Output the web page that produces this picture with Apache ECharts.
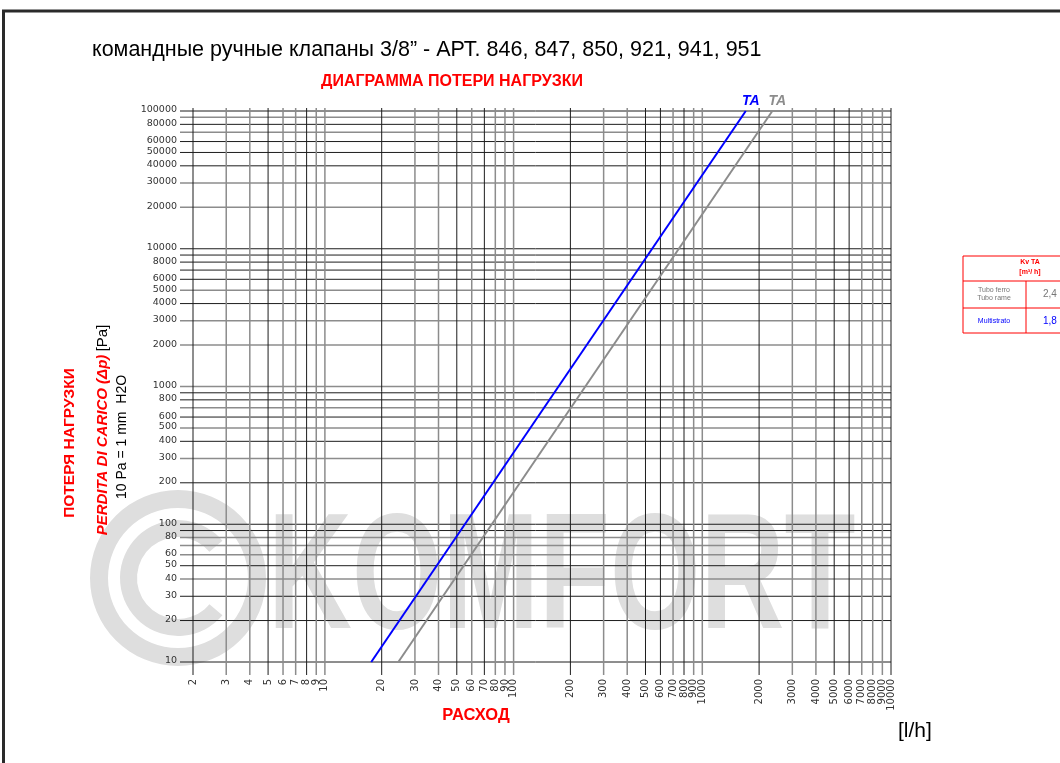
<!DOCTYPE html>
<html><head><meta charset="utf-8">
<script src="https://cdn.jsdelivr.net/npm/echarts@6/dist/echarts.min.js"></script>
<style>html,body{margin:0;padding:0;background:#fff}#c{width:1060px;height:763px}</style>
</head><body><div id="c"></div>
<script>
// ---- data ----
const xTicks = [2,3,4,5,6,7,8,9,10,20,30,40,50,60,70,80,90,100,200,300,400,500,600,700,800,900,1000,2000,3000,4000,5000,6000,7000,8000,9000,10000];
const yTicks = [10,20,30,40,50,60,70,80,90,100,200,300,400,500,600,700,800,900,1000,2000,3000,4000,5000,6000,7000,8000,9000,10000,20000,30000,40000,50000,60000,70000,80000,90000,100000];
const yLabelValues = [10,20,30,40,50,60,80,100,200,300,400,500,600,800,1000,2000,3000,4000,5000,6000,8000,10000,20000,30000,40000,50000,60000,80000,100000];
const blueLine = [[17.6,10],[1700,100000]];   // Multistrato
const grayLine = [[24.5,10],[2350,100000]];   // Tubo ferro / rame
const curveNames = ['TA','TA'];
const kvHeader = ['Kv TA','[m³/ h]'];
const kvRows = [['Tubo ferro\nTubo rame','2,4'],['Multistrato','1,8']];

// ---- styles ----
const xDark = new Set([2,5,8,20,50,70,200,500,600,800,2000,5000,6000,10000]);
const yDark = new Set([10,20,30,50,90,100,200,400,600,800,900,4000,6000,7000,8000,9000,10000,40000,50000,60000,80000,100000]);
const DARK = '#1c1c1c', LIGHT = '#8c8c8c';
const RED = '#ff0000';
const WM = '#dedede';

const chart = echarts.init(document.getElementById('c'));

function vLine(params, api){
  const v = api.value(0);
  const a = api.coord([v, 10]), b = api.coord([v, 100000]);
  const d = xDark.has(v);
  return {type:'line', shape:{x1:a[0], y1:a[1]+13, x2:b[0], y2:b[1]-3},
    style:{stroke: d?DARK:LIGHT, lineWidth: d?1:1.5}};
}
function hLine(params, api){
  const v = api.value(1);
  const a = api.coord([2, v]), b = api.coord([10000, v]);
  const d = yDark.has(v);
  return {type:'line', shape:{x1:a[0]-13, y1:a[1], x2:b[0], y2:b[1]},
    style:{stroke: d?DARK:LIGHT, lineWidth: d?1:1.5}};
}
function xLab(params, api){
  const v = api.value(0);
  const a = api.coord([v, 10]);
  return {type:'text', x:a[0], y:a[1]+17, rotation:Math.PI/2,
    style:{text:String(v), align:'right', verticalAlign:'middle', fill:'#333', font:'10px "DejaVu Sans"'}};
}
function yLab(params, api){
  const v = api.value(1);
  const a = api.coord([2, v]);
  return {type:'text', x:a[0]-16, y:a[1]-1,
    style:{text:String(v), align:'right', verticalAlign:'middle', fill:'#333', font:'9.5px "DejaVu Sans"'}};
}
function taLab(params, api){
  const a = api.coord([api.value(0), api.value(1)]);
  const col = params.dataIndex === 0 ? '#0000ff' : '#8c8c8c';
  return {type:'text', x:a[0]+5, y:a[1]-3,
    style:{text:curveNames[params.dataIndex], align:'center', verticalAlign:'bottom', fill:col, font:'italic bold 14px "Liberation Sans"'}};
}

const tableEls = [];
const tx = 963, tc = 1026, tr = 1100;
const ty = [256, 281, 308, 333];
tableEls.push({type:'rect', shape:{x:tx, y:ty[0], width:tr-tx, height:ty[3]-ty[0]}, style:{fill:'#fff', stroke:RED, lineWidth:1}});
tableEls.push({type:'line', shape:{x1:tx, y1:ty[1], x2:tr, y2:ty[1]}, style:{stroke:RED, lineWidth:1}});
tableEls.push({type:'line', shape:{x1:tx, y1:ty[2], x2:tr, y2:ty[2]}, style:{stroke:RED, lineWidth:1}});
tableEls.push({type:'line', shape:{x1:tc, y1:ty[1], x2:tc, y2:ty[3]}, style:{stroke:RED, lineWidth:1}});
tableEls.push({type:'text', x:1030, y:262, style:{text:kvHeader[0], align:'center', verticalAlign:'middle', fill:RED, font:'bold 7px "Liberation Sans"'}});
tableEls.push({type:'text', x:1030, y:272, style:{text:kvHeader[1], align:'center', verticalAlign:'middle', fill:RED, font:'bold 7px "Liberation Sans"'}});
tableEls.push({type:'text', x:994, y:294.5, style:{text:kvRows[0][0], align:'center', verticalAlign:'middle', fill:'#777', font:'7px "Liberation Sans"', lineHeight:8}});
tableEls.push({type:'text', x:1043, y:294.5, style:{text:kvRows[0][1], align:'left', verticalAlign:'middle', fill:'#777', font:'10px "Liberation Sans"'}});
tableEls.push({type:'text', x:994, y:321, style:{text:kvRows[1][0], align:'center', verticalAlign:'middle', fill:'#0000ff', font:'7px "Liberation Sans"'}});
tableEls.push({type:'text', x:1043, y:321, style:{text:kvRows[1][1], align:'left', verticalAlign:'middle', fill:'#0000ff', font:'10px "Liberation Sans"'}});

const option = {
  animation:false,
  grid:{left:193, top:111, width:698, height:551, containLabel:false},
  xAxis:{type:'log', logBase:10, min:2, max:10000, show:false},
  yAxis:{type:'log', logBase:10, min:10, max:100000, show:false},
  graphic:[
    // watermark
    {type:'ring', z:-10, shape:{cx:178, cy:578, r:88, r0:70}, style:{fill:WM}},
    {type:'sector', z:-10, shape:{cx:178, cy:578, r:58, r0:41, startAngle:40*Math.PI/180, endAngle:320*Math.PI/180, clockwise:true}, style:{fill:WM}},
    {type:'text', z:-10, x:268, y:582, scaleX:0.7, style:{text:'KOMFORT', fill:WM, font:'bold 166px "Liberation Sans"', align:'left', verticalAlign:'middle'}},
    // frame
    {type:'rect', shape:{x:3.5, y:11, width:1100, height:800}, style:{fill:null, stroke:'#2a2a2a', lineWidth:3}},
    // titles
    {type:'text', x:92, y:50, scaleX:1, style:{text:'командные ручные клапаны 3/8” - АРТ. 846, 847, 850, 921, 941, 951', fill:'#000', font:'21.5px "Liberation Sans"', verticalAlign:'middle'}},
    {type:'text', x:452, y:82, style:{text:'ДИАГРАММА ПОТЕРИ НАГРУЗКИ', fill:RED, font:'bold 16px "Liberation Sans"', align:'center', verticalAlign:'middle'}},
    {type:'text', x:70, y:443, rotation:Math.PI/2, style:{text:'ПОТЕРЯ НАГРУЗКИ', fill:RED, font:'bold 15.5px "Liberation Sans"', align:'center', verticalAlign:'middle'}},
    {type:'text', x:103, y:430, rotation:Math.PI/2, style:{text:'{a|PERDITA DI CARICO (Δp)} {b|[Pa]}', align:'center', verticalAlign:'middle',
      rich:{a:{fill:RED, fontWeight:'bold', fontStyle:'italic', fontSize:15, fontFamily:'Liberation Sans'}, b:{fill:'#000', fontSize:15, fontFamily:'Liberation Sans'}}}},
    {type:'text', x:122, y:437, rotation:Math.PI/2, style:{text:'10 Pa = 1 mm  H2O', fill:'#000', font:'14px "Liberation Sans"', align:'center', verticalAlign:'middle'}},
    {type:'text', x:476, y:715, style:{text:'РАСХОД', fill:RED, font:'bold 16.5px "Liberation Sans"', align:'center', verticalAlign:'middle'}},
    {type:'text', x:898, y:731, style:{text:'[l/h]', fill:'#000', font:'21px "Liberation Sans"', align:'left', verticalAlign:'middle'}},
    ...tableEls
  ],
  series:[
    {type:'custom', renderItem:hLine, data:yTicks.map(v=>[2,v]), z:2, silent:true, clip:false},
    {type:'custom', renderItem:vLine, data:xTicks.map(v=>[v,10]), z:2, silent:true, clip:false},
    {type:'custom', renderItem:xLab, data:xTicks.map(v=>[v,10]), z:2, silent:true, clip:false},
    {type:'custom', renderItem:yLab, data:yLabelValues.map(v=>[2,v]), z:2, silent:true, clip:false},
    {type:'line', data:grayLine, showSymbol:false, symbol:'none', lineStyle:{color:'#8c8c8c', width:2}, z:5, silent:true},
    {type:'line', data:blueLine, showSymbol:false, symbol:'none', lineStyle:{color:'#0000ff', width:2}, z:6, silent:true},
    {type:'custom', renderItem:taLab, data:[blueLine[1], grayLine[1]], z:7, silent:true, clip:false}
  ]
};
chart.setOption(option);
</script></body></html>
